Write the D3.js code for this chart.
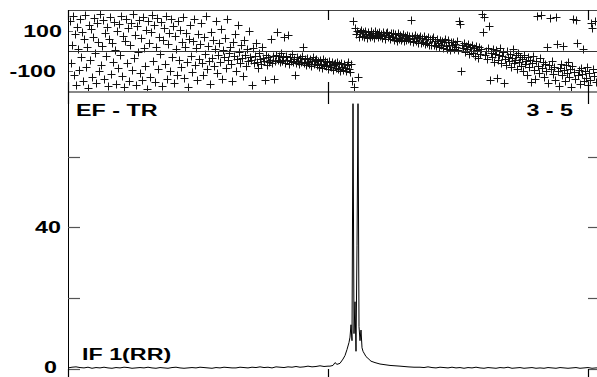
<!DOCTYPE html>
<html><head><meta charset="utf-8">
<script src="https://cdn.jsdelivr.net/npm/d3@7"></script>
<style>html,body{margin:0;padding:0;background:#fff;}svg{display:block;}</style>
</head><body>
<script>
// ---------- DATA ----------
const phaseStarts = [2, 208, 284]; // first channel of each phase block
const phaseLeft = [
150,-60,30,175,-120,85,-170,120,10,-95,
160,-30,95,-150,60,180,-80,20,-185,130,
-45,110,-130,70,165,-10,-160,140,45,-100,
185,-70,25,155,-140,90,-25,120,-175,60,
170,-115,40,-55,145,5,-165,100,-85,135,
-20,175,-125,75,-180,50,160,-60,115,-150,
30,140,-95,185,-35,80,-170,125,-5,155,
-110,65,-145,170,15,-75,105,-190,150,40,
-130,95,180,-50,130,-155,20,165,-90,70,
-15,145,-175,55,115,-65,175,-140,35,90,
-100,160,-30,125,-160,75,10,-120,150,-45,
105,-80,45,170,-135,20,90,-55,-180,60,
130,-25,-105,50,160,-70,15,-145,85,-40,
35,140,-60,-120,70,-15,175,-90,25,-50,
-165,95,-35,55,-75,10,150,-110,-20,40,
-55,110,-140,5,-30,65,-85,160,-45,-10,
20,-65,-150,45,-25,85,-100,-40,130,-5,
-60,30,-35,-125,55,-20,-75,10,-50,100,
-30,-45,-170,15,-60,-25,40,-55,-85,-10,
-40,-65,20,-35,-50,-145,-20,-70,-30,-55,
-45,60,-60,-25,-140,-50];
const phaseMid = [
-20,95,-45,-25,-55,-10,-50,-30,70,-60,
-25,-45,80,-65,-30,-50,-15,-55,-40,-120,
-60,-30,-50,-65,-35,-55,-25,20,-60,-40,
-70,-35,-55,-65,-40,-75,-50,-30,-65,-45,
-40,-70,-50,-80,-45,-65,-85,-40,-70,-50,
-75,-55,-90,-50,-70,-80,-55,-95,-65,-60,
-85,-55,-90,-65,-100,-60,-80,-95,-65,-85,
-100,-70,-55,-90,-105,-65];
const phaseRight = [
-150,150,-180,115,85,100,-130,70,95,105,
75,95,70,100,85,65,95,80,70,100,
75,90,65,100,80,90,70,95,75,85,
65,95,80,60,90,95,70,80,60,90,
70,90,55,85,65,50,90,60,80,55,
65,85,50,75,55,80,60,75,50,155,
75,45,65,80,50,70,40,65,75,40,
65,45,75,35,60,40,70,30,60,30,
60,70,30,50,25,60,40,20,55,30,
50,15,45,60,25,10,55,30,5,45,
28,45,10,35,22,50,5,150,135,-100,
30,15,40,-5,25,10,35,-15,20,0,
30,-10,15,-25,25,5,-35,20,-15,10,
185,95,170,-20,0,-40,15,125,-145,-10,
-30,10,-55,-15,5,-135,-45,-20,15,-60,
-25,-5,-160,-40,-70,0,-30,-50,-15,-80,
-35,10,-60,-45,-20,-90,-10,-55,-30,-75,
-40,-100,-20,-65,-50,-120,-30,-80,-45,-155,
-60,-25,-95,-140,-50,175,-75,-110,-35,180,
-85,-55,-130,-65,-100,20,-160,-70,165,-90,
-50,-115,-80,-145,170,35,-100,-175,-85,-65,
-120,25,-95,-150,-70,-110,-55,-130,-90,-180,
-75,160,-105,-140,155,40,-120,-95,-165,-85,
-115,10,-150,-100,-135,-80,-170,-110,-145,140,
115,-90,-125,150,-155,-105];

const specLeftStep = 4;
const specLeft = [
0.3,0.5,0.6,0.4,0.3,0.5,0.2,0.4,0.3,0.5,
0.3,0.2,0.4,0.3,0.5,0.4,0.2,0.3,0.4,0.3,
0.5,0.3,0.2,0.4,0.3,0.2,0.4,0.5,0.3,0.2,
0.3,0.4,0.3,0.5,0.4,0.3,0.2,0.4,0.3,0.5,
0.4,0.3,0.3,0.5,0.4,0.3,0.5,0.4,0.6,0.4,
0.5,0.3,0.6,0.5,0.4,0.6,0.5,0.7,0.5,0.6,
0.8,0.6,0.7,0.9,0.7,0.8];
const specPeak = [
[262,0.8],[265,1.0],[267,1.8],[269,1.3],[272,1.6],[275,2.8],[277,3.8],[279,5.5],[281,7.5],[282,9],
[283,12.5],[284,8],[285,75],[286,10],[287,19],[288,5],[289,35],[290,75],[291,12],[292,8],
[293,11],[294,6],[295,5],[296,4.5],[298,3.5],[300,3.0],[303,2.2],[307,1.8],[312,1.4],[317,1.2],
[322,1.0],[327,0.9],[332,0.8],[340,0.6],[346,0.5]];
const specRightStart = 352, specRightStep = 4;
const specRight = [
0.5,0.4,0.6,0.4,0.3,0.5,0.4,0.3,0.5,0.3,
0.4,0.2,0.4,0.3,0.5,0.3,0.2,0.4,0.3,0.2,
0.4,0.3,0.5,0.2,0.3,0.4,0.2,0.3,0.4,0.2,
0.3,0.2,0.4,0.3,0.2,0.4,0.3,0.2,0.3,0.4,
0.2,0.3,0.4,0.2,0.3,0.3];

const xTicks = [0, 260, 520];
const phaseTicks = [100, -100];
const ampTicks = [0, 20, 40, 60];
const ampLabels = {0: "0", 40: "40"};

// ---------- LAYOUT ----------
const W = 597, H = 377;
const svg = d3.select("body").append("svg").attr("width", W).attr("height", H)
  .style("font-family", "'Liberation Sans', Arial, sans-serif").style("font-weight", "bold");

const x = d3.scaleLinear().domain([0, 532]).range([68, 600]);
const yP = d3.scaleLinear().domain([-205, 205]).range([92, 10]);
const yA = d3.scaleLinear().domain([-3.4, 78.3]).range([381, 92]);

const defs = svg.append("defs");
defs.append("clipPath").attr("id", "clipTop").append("rect")
  .attr("x", 68).attr("y", 10).attr("width", 532).attr("height", 82);
defs.append("clipPath").attr("id", "clipBot").append("rect")
  .attr("x", 68).attr("y", 92).attr("width", 532).attr("height", 289);

// phase points
const phasePts = [];
[phaseLeft, phaseMid, phaseRight].forEach((arr, k) => {
  arr.forEach((v, i) => phasePts.push({c: phaseStarts[k] + i, v}));
});

const gTop = svg.append("g").attr("clip-path", "url(#clipTop)");
gTop.selectAll("path.pt").data(phasePts).enter().append("path")
  .attr("class", "pt")
  .attr("d", d => {
    const px = Math.round(x(d.c)) + 0.5, py = Math.round(yP(d.v)) + 0.5;
    return `M${px-4},${py}H${px+4}M${px},${py-4}V${py+4}`;
  })
  .attr("stroke", "#111").attr("stroke-width", 1).attr("fill", "none");

// top panel frame
svg.append("line").attr("x1", 68).attr("x2", 600).attr("y1", yP(205)+0.5).attr("y2", yP(205)+0.5)
  .attr("stroke", "#444").attr("stroke-width", 1.2);
svg.append("line").attr("x1", 68).attr("x2", 600).attr("y1", Math.round(yP(0))+0.5).attr("y2", Math.round(yP(0))+0.5)
  .attr("stroke", "#333").attr("stroke-width", 1.2);
svg.append("line").attr("x1", 68).attr("x2", 600).attr("y1", yP(-205)).attr("y2", yP(-205))
  .attr("stroke", "#888").attr("stroke-width", 2);
phaseTicks.forEach(t => {
  svg.append("line").attr("x1", 68).attr("x2", 73).attr("y1", Math.round(yP(t))+0.5).attr("y2", Math.round(yP(t))+0.5)
    .attr("stroke", "#666").attr("stroke-width", 1);
});

// spectrum
const spec = [];
specLeft.forEach((v, i) => spec.push([i * specLeftStep, v]));
specPeak.forEach(p => spec.push(p));
specRight.forEach((v, i) => spec.push([specRightStart + i * specRightStep, v]));

svg.append("g").attr("clip-path", "url(#clipBot)").append("path")
  .datum(spec)
  .attr("d", d3.line().x(d => x(d[0])).y(d => yA(d[1])))
  .attr("fill", "none").attr("stroke", "#000").attr("stroke-width", 1);

// y axis line
svg.append("line").attr("x1", 68.5).attr("x2", 68.5).attr("y1", 10).attr("y2", H)
  .attr("stroke", "#000").attr("stroke-width", 1);

// amplitude ticks (left and right, inward)
ampTicks.forEach(t => {
  const yy = Math.round(yA(t)) + 0.5;
  svg.append("line").attr("x1", 68).attr("x2", 80).attr("y1", yy).attr("y2", yy)
    .attr("stroke", "#555").attr("stroke-width", 1.2);
  svg.append("line").attr("x1", 588).attr("x2", 600).attr("y1", yy).attr("y2", yy)
    .attr("stroke", "#555").attr("stroke-width", 1.2);
});

// x ticks (all panel edges, inward)
xTicks.forEach(t => {
  const xx = Math.round(x(t)) + 0.5;
  [[10, 20], [82, 104], [369, 381]].forEach(([a, b]) => {
    svg.append("line").attr("x1", xx).attr("x2", xx).attr("y1", a).attr("y2", b)
      .attr("stroke", "#000").attr("stroke-width", 1.2);
  });
});

// labels
function label(txt, lx, ly, anchor) {
  svg.append("text").attr("transform", `translate(${lx},${ly}) scale(1.37,1)`)
    .attr("text-anchor", anchor).attr("font-size", 17).attr("fill", "#000").text(txt);
}
label("100", 62, yP(100) + 6, "end");
label("-100", 56, yP(-100) + 6, "end");
label(ampLabels[40], 61, yA(40) + 6, "end");
label(ampLabels[0], 57, yA(0) + 4, "end");
label("EF - TR", 76, 116, "start");
label("3 - 5", 573, 116, "end");
label("IF 1(RR)", 82, 360, "start");
</script>
</body></html>
